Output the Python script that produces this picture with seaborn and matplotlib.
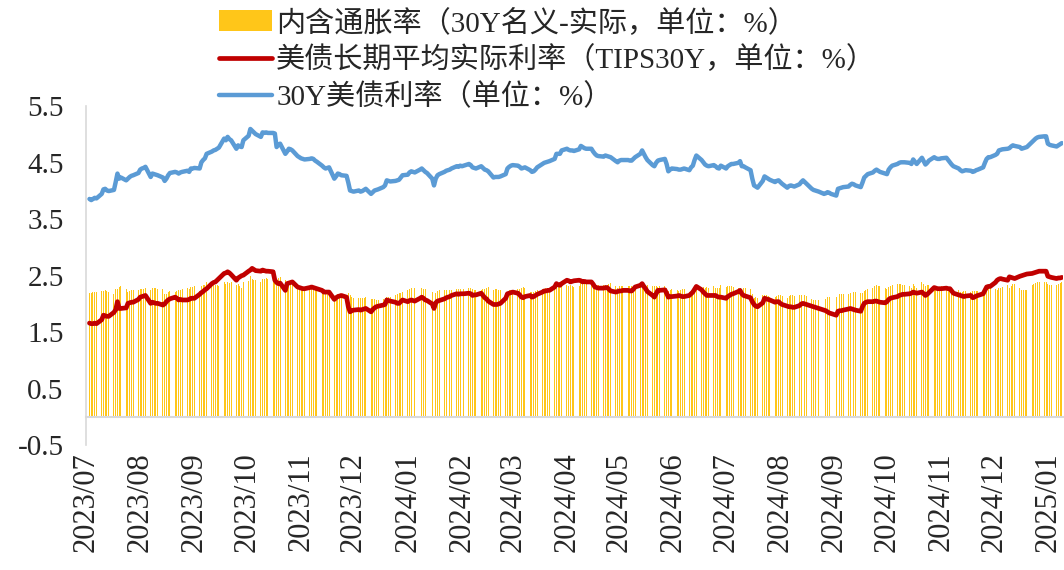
import numpy as np
import pandas as pd
import matplotlib
matplotlib.use('Agg')
import matplotlib.pyplot as plt
import matplotlib.dates as mdates
import seaborn as sns

# first business day of the series (one value per weekday, Mon..Fri per row)
start_date = '2023-07-03'

# 30Y US treasury yield, %
nominal_30y = [
    3.86, 3.84, 3.86, 3.88, 3.87,
    3.95, 4.03, 4.04, 4.01, 4.00,
    4.02, 4.16, 4.31, 4.22, 4.24,
    4.19, 4.22, 4.25, 4.27, 4.28,
    4.32, 4.38, 4.40, 4.41, 4.43,
    4.25, 4.31, 4.30, 4.29, 4.28,
    4.24, 4.18, 4.22, 4.28, 4.32,
    4.34, 4.33, 4.31, 4.33, 4.34,
    4.36, 4.34, 4.40, 4.40, 4.41,
    4.40, 4.51, 4.55, 4.58, 4.66,
    4.70, 4.72, 4.73, 4.75, 4.77,
    4.93, 4.90, 4.96, 4.92, 4.90,
    4.75, 4.81, 4.79, 4.78, 4.90,
    4.98, 5.10, 5.07, 5.04, 5.01,
    4.96, 5.04, 5.03, 5.04, 5.03,
    5.03, 5.02, 4.78, 4.82, 4.84,
    4.66, 4.70, 4.75, 4.74, 4.72,
    4.62, 4.60, 4.58, 4.57, 4.56,
    4.57, 4.58, 4.57, 4.54, 4.52,
    4.45, 4.42, 4.40, 4.41, 4.42,
    4.22, 4.26, 4.31, 4.30, 4.28,
    4.27, 4.15, 4.01, 4.00, 3.99,
    4.01, 3.99, 4.00, 4.02, 4.04,
    3.95, 3.98, 4.01, 4.02, 4.03,
    4.07, 4.10, 4.19, 4.18, 4.17,
    4.18, 4.19, 4.20, 4.24, 4.28,
    4.29, 4.33, 4.35, 4.34, 4.33,
    4.38, 4.40, 4.37, 4.34, 4.32,
    4.22, 4.10, 4.22, 4.28, 4.30,
    4.34, 4.36, 4.37, 4.38, 4.40,
    4.44, 4.43, 4.45, 4.44, 4.45,
    4.48, 4.46, 4.42, 4.41, 4.40,
    4.44, 4.41, 4.38, 4.37, 4.35,
    4.24, 4.25, 4.25, 4.25, 4.26,
    4.30, 4.40, 4.43, 4.45, 4.46,
    4.45, 4.43, 4.40, 4.41, 4.42,
    4.37, 4.34, 4.35, 4.38, 4.42,
    4.48, 4.50, 4.51, 4.52, 4.53,
    4.57, 4.66, 4.66, 4.66, 4.72,
    4.75, 4.73, 4.72, 4.72, 4.71,
    4.74, 4.80, 4.78, 4.76, 4.75,
    4.75, 4.70, 4.66, 4.63, 4.62,
    4.61, 4.63, 4.62, 4.61, 4.60,
    4.53, 4.51, 4.54, 4.55, 4.55,
    4.55, 4.54, 4.54, 4.57, 4.60,
    4.66, 4.72, 4.66, 4.60, 4.55,
    4.46, 4.44, 4.50, 4.54, 4.55,
    4.57, 4.48, 4.35, 4.38, 4.40,
    4.39, 4.38, 4.38, 4.39, 4.40,
    4.37, 4.42, 4.45, 4.55, 4.63,
    4.55, 4.51, 4.47, 4.45, 4.44,
    4.46, 4.44, 4.41, 4.40, 4.45,
    4.40, 4.44, 4.46, 4.48, 4.48,
    4.50, 4.53, 4.44, 4.44, 4.42,
    4.37, 4.22, 4.10, 4.08, 4.06,
    4.18, 4.26, 4.24, 4.22, 4.20,
    4.16, 4.18, 4.19, 4.16, 4.13,
    4.06, 4.09, 4.10, 4.09, 4.08,
    4.12, 4.16, 4.19, 4.16, 4.13,
    4.04, 4.02, 4.01, 4.00, 3.99,
    3.95, 3.96, 3.98, 3.97, 3.95,
    3.92, 4.04, 4.05, 4.06, 4.07,
    4.08, 4.11, 4.13, 4.12, 4.10,
    4.07, 4.15, 4.24, 4.27, 4.30,
    4.33, 4.36, 4.38, 4.36, 4.34,
    4.31, 4.30, 4.38, 4.42, 4.45,
    4.48, 4.50, 4.51, 4.51, 4.51,
    4.50, 4.48, 4.56, 4.52, 4.48,
    4.59, 4.53, 4.47, 4.50, 4.54,
    4.60, 4.58, 4.57, 4.57, 4.58,
    4.59, 4.55, 4.51, 4.47, 4.44,
    4.40, 4.37, 4.35, 4.36, 4.37,
    4.36, 4.34, 4.35, 4.37, 4.38,
    4.42, 4.50, 4.57, 4.60, 4.60,
    4.64, 4.66, 4.72, 4.73, 4.74,
    4.75, 4.76, 4.79, 4.81, 4.80,
    4.78, 4.75, 4.76, 4.77, 4.78,
    4.87, 4.90, 4.93, 4.95, 4.96,
    4.97, 4.97, 4.84, 4.82, 4.81,
    4.79, 4.81, 4.83, 4.85,
]

# 30Y TIPS real yield, %
tips_30y = [
    1.66, 1.65, 1.65, 1.66, 1.65,
    1.72, 1.80, 1.79, 1.78, 1.78,
    1.85, 1.90, 2.04, 1.92, 1.92,
    1.93, 2.01, 2.02, 2.03, 2.03,
    2.08, 2.12, 2.13, 2.14, 2.15,
    2.01, 2.03, 2.02, 2.01, 2.01,
    1.98, 2.00, 2.04, 2.07, 2.09,
    2.12, 2.10, 2.07, 2.08, 2.07,
    2.07, 2.08, 2.10, 2.10, 2.10,
    2.17, 2.20, 2.22, 2.25, 2.27,
    2.36, 2.38, 2.39, 2.42, 2.45,
    2.54, 2.55, 2.57, 2.55, 2.52,
    2.42, 2.46, 2.48, 2.50, 2.51,
    2.58, 2.60, 2.63, 2.61, 2.59,
    2.58, 2.60, 2.59, 2.58, 2.58,
    2.57, 2.42, 2.38, 2.36, 2.37,
    2.24, 2.36, 2.37, 2.38, 2.39,
    2.30, 2.29, 2.28, 2.27, 2.27,
    2.29, 2.30, 2.29, 2.28, 2.27,
    2.24, 2.21, 2.21, 2.21, 2.21,
    2.08, 2.11, 2.13, 2.14, 2.15,
    2.12, 1.95, 1.86, 1.88, 1.89,
    1.90, 1.89, 1.90, 1.91, 1.92,
    1.86, 1.90, 1.93, 1.95, 1.96,
    1.98, 1.99, 2.07, 2.06, 2.05,
    2.03, 2.01, 2.01, 2.04, 2.07,
    2.04, 2.06, 2.07, 2.06, 2.05,
    2.10, 2.12, 2.10, 2.07, 2.06,
    2.00, 1.92, 2.02, 2.05, 2.06,
    2.09, 2.11, 2.12, 2.13, 2.15,
    2.18, 2.17, 2.18, 2.18, 2.18,
    2.19, 2.18, 2.15, 2.16, 2.16,
    2.19, 2.15, 2.11, 2.09, 2.05,
    1.99, 1.99, 1.99, 2.00, 2.01,
    2.10, 2.18, 2.19, 2.20, 2.21,
    2.19, 2.16, 2.12, 2.11, 2.13,
    2.15, 2.12, 2.13, 2.15, 2.17,
    2.21, 2.23, 2.23, 2.24, 2.24,
    2.30, 2.36, 2.34, 2.33, 2.36,
    2.42, 2.41, 2.39, 2.40, 2.41,
    2.42, 2.41, 2.39, 2.40, 2.39,
    2.39, 2.35, 2.30, 2.29, 2.28,
    2.28, 2.29, 2.29, 2.26, 2.23,
    2.21, 2.22, 2.23, 2.23, 2.24,
    2.24, 2.23, 2.23, 2.26, 2.30,
    2.33, 2.36, 2.31, 2.27, 2.22,
    2.15, 2.12, 2.18, 2.24, 2.24,
    2.25, 2.19, 2.12, 2.13, 2.13,
    2.14, 2.15, 2.14, 2.13, 2.13,
    2.15, 2.18, 2.21, 2.26, 2.31,
    2.25, 2.21, 2.18, 2.15, 2.15,
    2.15, 2.15, 2.13, 2.12, 2.12,
    2.10, 2.13, 2.15, 2.17, 2.18,
    2.22, 2.24, 2.18, 2.15, 2.14,
    2.11, 2.04, 1.99, 1.96, 1.95,
    2.02, 2.10, 2.09, 2.08, 2.07,
    2.03, 2.04, 2.04, 2.01, 1.99,
    1.96, 1.95, 1.95, 1.94, 1.94,
    1.97, 2.00, 2.01, 2.00, 1.99,
    1.96, 1.95, 1.94, 1.93, 1.92,
    1.89, 1.88, 1.86, 1.84, 1.83,
    1.80, 1.87, 1.88, 1.88, 1.89,
    1.91, 1.92, 1.91, 1.90, 1.89,
    1.87, 1.95, 2.01, 2.03, 2.04,
    2.04, 2.05, 2.05, 2.04, 2.03,
    2.02, 2.04, 2.08, 2.10, 2.11,
    2.13, 2.15, 2.16, 2.17, 2.17,
    2.18, 2.19, 2.21, 2.20, 2.19,
    2.21, 2.18, 2.15, 2.17, 2.20,
    2.29, 2.28, 2.27, 2.27, 2.27,
    2.28, 2.27, 2.27, 2.23, 2.19,
    2.16, 2.15, 2.14, 2.13, 2.14,
    2.15, 2.11, 2.12, 2.14, 2.15,
    2.18, 2.24, 2.30, 2.31, 2.31,
    2.38, 2.42, 2.44, 2.45, 2.44,
    2.42, 2.48, 2.47, 2.46, 2.45,
    2.49, 2.50, 2.51, 2.52, 2.53,
    2.54, 2.55, 2.56, 2.57, 2.58,
    2.58, 2.58, 2.49, 2.48, 2.47,
    2.45, 2.46, 2.46, 2.47,
]

labels = ['内含通胀率（30Y名义-实际，单位：%）',
          '美债长期平均实际利率（TIPS30Y，单位：%）',
          '30Y美债利率（单位：%）']
y_ticks = [-0.5, 0.5, 1.5, 2.5, 3.5, 4.5, 5.5]

dates = pd.bdate_range(start_date, periods=len(nominal_30y))
nominal = np.array(nominal_30y)
real = np.array(tips_30y)
breakeven = nominal - real  # 30Y名义-实际

sns.set_style('white')
plt.rcParams['font.family'] = ['Liberation Serif', 'Noto Sans CJK SC']
plt.rcParams['axes.unicode_minus'] = False

fig = plt.figure(figsize=(10.64, 5.70), dpi=100)
ax = fig.add_axes([0.0808, 0.2193, 0.918, 0.594])

ax.bar(dates, breakeven, width=0.55, color='#FFC000', alpha=0.9, linewidth=0,
       label=labels[0])
sns.lineplot(x=dates, y=nominal, color='#5B9BD5', linewidth=3.2, ax=ax, label=labels[2])
sns.lineplot(x=dates, y=real, color='#C00000', linewidth=3.4, ax=ax, label=labels[1])

ax.set_ylim(-0.5, 5.5)
ax.set_xlim(pd.Timestamp('2023-07-01'), pd.Timestamp('2025-01-09 12:00'))
ax.set_yticks(y_ticks)
ax.set_yticklabels([f'{v:.1f}' for v in y_ticks])
ax.set_xlabel('')
ax.set_ylabel('')

for s in ['top', 'right']:
    ax.spines[s].set_visible(False)
ax.spines['left'].set_color('#D9D9D9')
ax.spines['left'].set_linewidth(1.2)
ax.spines['bottom'].set_position(('data', 0))
ax.spines['bottom'].set_color('#D9D9D9')
ax.spines['bottom'].set_linewidth(1.5)

ax.xaxis.set_major_locator(mdates.MonthLocator())
ax.tick_params(axis='x', direction='out', length=6, width=1.5, color='#D9D9D9',
               labelbottom=False)
ax.tick_params(axis='y', direction='out', length=6, width=1.2, color='#D9D9D9',
               labelsize=21, pad=10)

# month labels sit below the plot area, as in Excel's "low" label position
sec = ax.secondary_xaxis('bottom')
sec.xaxis.set_major_locator(mdates.MonthLocator())
sec.xaxis.set_major_formatter(mdates.DateFormatter('%Y/%m'))
sec.tick_params(length=0, pad=5, labelsize=22, labelrotation=90)
sec.spines['bottom'].set_visible(False)

h, l = ax.get_legend_handles_labels()
ax.get_legend().remove()
order = [l.index(t) for t in labels]
fig.legend([h[i] for i in order], [l[i] for i in order],
           loc='upper left', bbox_to_anchor=(0.198, 1.0), frameon=False,
           fontsize=21, handlelength=1.8, handleheight=0.75, handletextpad=0.15,
           labelspacing=0.32, borderaxespad=0, borderpad=0.3)

fig.savefig('out.png', dpi=100)
